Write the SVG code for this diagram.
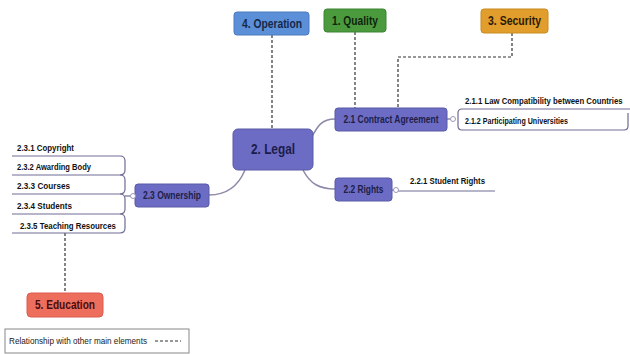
<svg xmlns="http://www.w3.org/2000/svg" width="630" height="354" viewBox="0 0 630 354">
<style>
.t{font-family:"Liberation Sans",Arial,sans-serif;font-weight:bold;}
.n{font-family:"Liberation Sans",Arial,sans-serif;}
.main{font-size:12px;text-anchor:middle;}
.sub{font-size:11px;fill:#1e1e4a;text-anchor:middle;}
.leaf{font-size:9.5px;fill:#111;}
.purple{fill:#6c6cc4;stroke:#5a5aa8;stroke-width:1;}
.conn{fill:none;stroke:#8c8aa8;stroke-width:1.5;}
.leafline{fill:none;stroke:#6e6c96;stroke-width:1.2;}
.dash{fill:none;stroke:#333;stroke-width:1.2;stroke-dasharray:3,2;}
.knob{fill:#fff;stroke:#9a98b8;stroke-width:1;}
</style>
<rect width="630" height="354" fill="#fff"/>
<g id="connectors">
<path class="dash" d="M272,35 V129"/>
<path class="dash" d="M355,32 V108"/>
<path class="dash" d="M512,33 V57 H398 V108"/>
<path class="dash" d="M65,233 V293"/>
<path class="conn" d="M310,140 C318,125 322,119 335,119"/>
<path class="conn" d="M303,170 C310,184 320,189 335,189"/>
<path class="conn" d="M209,195 C230,195 240,182 245,170"/>
<path class="conn" d="M447,119 H452"/>
<path class="conn" d="M392,190 H395"/>
<path class="conn" d="M209,196 H134"/>
</g>
<g id="n4">
<rect x="234" y="12" width="75" height="23" rx="3" fill="#5b8fd8" stroke="#4a7cc0"/>
<text class="t main" x="272" y="28" fill="#15284a" textLength="60" lengthAdjust="spacingAndGlyphs">4. Operation</text>
</g>
<g id="n1">
<rect x="324" y="9" width="62" height="23" rx="3" fill="#4b9a3e" stroke="#3c8432"/>
<text class="t main" x="355" y="25" fill="#10240c" textLength="46" lengthAdjust="spacingAndGlyphs">1. Quality</text>
</g>
<g id="n3">
<rect x="481" y="9" width="67" height="24" rx="3" fill="#e29e2c" stroke="#c98a20"/>
<text class="t main" x="514.5" y="25" fill="#2a1a05" textLength="53" lengthAdjust="spacingAndGlyphs">3. Security</text>
</g>
<g id="n2">
<rect x="233" y="129" width="80" height="41" rx="5" class="purple"/>
<text class="t" x="273" y="154" font-size="15" text-anchor="middle" fill="#1c1c4c" textLength="44" lengthAdjust="spacingAndGlyphs">2. Legal</text>
</g>
<g id="n21">
<rect x="335" y="108" width="112" height="23" rx="3" class="purple"/>
<text class="t sub" x="391" y="123" textLength="95" lengthAdjust="spacingAndGlyphs">2.1 Contract Agreement</text>
</g>
<g id="n21leaves">
<path class="leafline" d="M630,109 H462 Q458,109 458,113 V126 Q458,130 462,130 H624 Q628,130 628,126 V113"/>
<circle class="knob" cx="453" cy="119" r="2.5"/>
<text class="t leaf" transform="translate(465,104) scale(0.74,1)" x="0" y="0" textLength="213" lengthAdjust="spacingAndGlyphs">2.1.1 Law Compatibility between Countries</text>
<text class="t leaf" x="465" y="124" textLength="103" lengthAdjust="spacingAndGlyphs">2.1.2 Participating Universities</text>
</g>
<g id="n22">
<rect x="335" y="178" width="57" height="23" rx="3" class="purple"/>
<text class="t sub" x="363.5" y="193" textLength="40" lengthAdjust="spacingAndGlyphs">2.2 Rights</text>
</g>
<g id="n22leaves">
<path class="leafline" d="M398,191 H495"/>
<circle class="knob" cx="396" cy="190" r="2.5"/>
<text class="t leaf" x="410" y="184" textLength="75" lengthAdjust="spacingAndGlyphs">2.2.1 Student Rights</text>
</g>
<g id="n23">
<rect x="135" y="184" width="74" height="23" rx="3" class="purple"/>
<text class="t sub" x="172" y="199" textLength="58" lengthAdjust="spacingAndGlyphs">2.3 Ownership</text>
</g>
<g id="n23leaves">
<path class="leafline" d="M12,156 H120 Q125,156 125,161 V170 Q125,175 120,175 H12"/>
<path class="leafline" d="M120,175 Q125,175 125,180 V189 Q125,194 120,194 H12"/>
<path class="leafline" d="M120,194 Q125,194 125,199 V209 Q125,214 120,214 H12"/>
<path class="leafline" d="M120,214 Q125,214 125,219 V228 Q125,233 120,233 H12"/>
<path class="leafline" d="M125,196 H131"/>
<circle class="knob" cx="133" cy="196" r="2.5"/>
<text class="t leaf" x="17" y="151" textLength="57" lengthAdjust="spacingAndGlyphs">2.3.1 Copyright</text>
<text class="t leaf" x="17" y="170" textLength="74" lengthAdjust="spacingAndGlyphs">2.3.2 Awarding Body</text>
<text class="t leaf" x="17" y="189" textLength="53" lengthAdjust="spacingAndGlyphs">2.3.3 Courses</text>
<text class="t leaf" x="17" y="209" textLength="55" lengthAdjust="spacingAndGlyphs">2.3.4 Students</text>
<text class="t leaf" x="20" y="229" textLength="96" lengthAdjust="spacingAndGlyphs">2.3.5 Teaching Resources</text>
</g>
<g id="n5">
<rect x="27" y="293" width="76" height="24" rx="4" fill="#ee6e5e" stroke="#d85c4c"/>
<text class="t main" x="65" y="309" fill="#4a0c0c" textLength="60" lengthAdjust="spacingAndGlyphs">5. Education</text>
</g>
<g id="legend">
<rect x="5" y="329" width="184" height="24" fill="#fff" stroke="#888" stroke-width="1"/>
<text class="n" x="9" y="344" font-size="9.5" fill="#222" textLength="138" lengthAdjust="spacingAndGlyphs">Relationship with other main elements</text>
<path class="dash" d="M155,341 H181" stroke-dasharray="2,1.5" stroke-width="1"/>
</g>
</svg>
